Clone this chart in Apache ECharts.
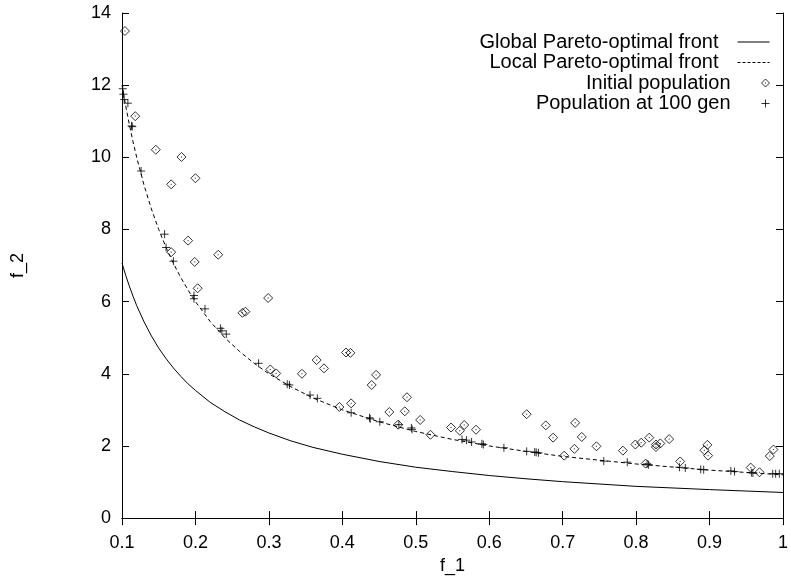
<!DOCTYPE html>
<html>
<head>
<meta charset="utf-8">
<script src="https://cdn.jsdelivr.net/npm/echarts@6/dist/echarts.min.js"></script>
<style>
  html, body { margin: 0; padding: 0; background: #fff; }
  #chart { width: 791px; height: 580px; }
</style>
</head>
<body>
<div id="chart"></div>
<script>
// f_1 sample positions for the two fronts
const frontF1 = [0.1, 0.105, 0.11, 0.115, 0.12, 0.13, 0.14, 0.15, 0.16, 0.17, 0.18, 0.19, 0.2, 0.22, 0.24, 0.26, 0.28,
  0.3, 0.33, 0.36, 0.4, 0.45, 0.5, 0.55, 0.6, 0.65, 0.7, 0.8, 0.9, 1.0]
// 全局前沿 f_2
const globalF2 = [7.07, 6.73, 6.43, 6.15, 5.89, 5.44, 5.05, 4.71, 4.42, 4.16, 3.93, 3.72, 3.54, 3.21, 2.95, 2.72, 2.53,
  2.36, 2.14, 1.96, 1.77, 1.57, 1.41, 1.29, 1.18, 1.09, 1.01, 0.88, 0.79, 0.71]
// 局部前沿 f_2
const localF2 = [12.0, 11.43, 10.91, 10.43, 10.0, 9.23, 8.57, 8.0, 7.5, 7.06, 6.67, 6.32, 6.0, 5.45, 5.0, 4.62, 4.29,
  4.0, 3.64, 3.33, 3.0, 2.67, 2.4, 2.18, 2.0, 1.85, 1.71, 1.5, 1.33, 1.2]

// initial population
const initF1 = [0.104, 0.118, 0.146, 0.181, 0.167, 0.2, 0.19, 0.167, 0.231, 0.199, 0.203, 0.299, 0.264, 0.268,
  0.302, 0.31, 0.345, 0.365, 0.375, 0.405, 0.411, 0.396, 0.412, 0.446, 0.44, 0.488, 0.464, 0.485, 0.476,
  0.506, 0.52, 0.548, 0.56, 0.566, 0.582, 0.651, 0.677, 0.687, 0.702, 0.717, 0.726, 0.716, 0.746, 0.782,
  0.799, 0.807, 0.818, 0.827, 0.833, 0.827, 0.845, 0.86, 0.813, 0.893, 0.897, 0.898, 0.956, 0.968, 0.982, 0.987]
const initF2 = [13.5, 11.14, 10.21, 10.01, 9.25, 9.42, 7.69, 7.37, 7.3, 7.1, 6.37, 6.1, 5.69, 5.72,
  4.12, 4.01, 4.0, 4.38, 4.15, 4.59, 4.58, 3.08, 3.18, 3.97, 3.69, 3.35, 2.94, 2.96, 2.59,
  2.72, 2.31, 2.51, 2.42, 2.58, 2.45, 2.88, 2.57, 2.23, 1.73, 2.64, 2.25, 1.92, 1.99, 1.87,
  2.04, 2.09, 2.23, 2.04, 2.07, 1.97, 2.19, 1.57, 1.51, 1.88, 2.03, 1.73, 1.4, 1.27, 1.72, 1.9]

// population after 100 generations
const genF1 = [0.101, 0.102, 0.103, 0.108, 0.113, 0.114, 0.126, 0.158, 0.16, 0.17, 0.198, 0.198, 0.213, 0.234,
  0.236, 0.242, 0.286, 0.325, 0.328, 0.356, 0.366, 0.412, 0.437, 0.438, 0.451, 0.477, 0.494, 0.495, 0.563,
  0.569, 0.576, 0.59, 0.592, 0.62, 0.651, 0.662, 0.664, 0.667, 0.756, 0.788, 0.815, 0.817, 0.859, 0.867,
  0.888, 0.892, 0.929, 0.934, 0.957, 0.959, 0.986, 0.99, 0.995]
const genF2 = [11.9, 11.75, 11.6, 11.5, 10.87, 10.85, 9.62, 7.87, 7.5, 7.12, 6.17, 6.08, 5.8, 5.26,
  5.19, 5.1, 4.29, 3.71, 3.69, 3.41, 3.32, 2.92, 2.78, 2.75, 2.67, 2.59, 2.5, 2.46, 2.18,
  2.16, 2.11, 2.06, 2.04, 1.95, 1.85, 1.83, 1.82, 1.81, 1.58, 1.55, 1.5, 1.48, 1.41, 1.39,
  1.35, 1.34, 1.31, 1.29, 1.26, 1.25, 1.23, 1.23, 1.23]

const zip = (xs, ys) => xs.map((x, i) => [x, ys[i]])

const FONT = 'Liberation Sans, Arial, Helvetica, sans-serif'
const DIAMOND = 'path://M4,0L8,4L4,8L0,4Z M3.5,4L4.5,4'
const PLUS = 'path://M0,4L8,4M4,0L4,8'

const names = ['Global Pareto-optimal front', 'Local Pareto-optimal front', 'Initial population', 'Population at 100 gen']

const axisCommon = {
  type: 'value',
  axisLine: { show: true, lineStyle: { color: '#000', width: 1 } },
  axisTick: { show: true, inside: true, length: 7, lineStyle: { color: '#000' } },
  splitLine: { show: false }
}

const hollow = { color: 'transparent', borderColor: '#000', borderWidth: 1 }

const chart = echarts.init(document.getElementById('chart'))
chart.setOption({
  animation: false,
  backgroundColor: '#fff',
  grid: { left: 122, right: 1, top: 13, bottom: 54 },
  // 图例逐条放置，文字右对齐
  legend: names.map((n, i) => ({
    data: [n],
    right: 21,
    top: 32 + i * 20.5,
    align: 'right',
    itemWidth: 32,
    itemHeight: 8,
    padding: 0,
    // 线条图例不画圆点
    itemStyle: i < 2 ? { opacity: 0 } : hollow,
    lineStyle: { width: 1, type: i === 1 ? [3, 2] : 'solid', color: '#000' },
    textStyle: { fontFamily: FONT, fontSize: 20, color: '#000', padding: [0, 14, 0, 0] }
  })),
  xAxis: [
    Object.assign({}, axisCommon, {
      min: 0.1, max: 1, interval: 0.1,
      name: 'f_1', nameLocation: 'middle', nameGap: 37,
      nameTextStyle: { fontFamily: FONT, fontSize: 18, color: '#000' },
      axisLabel: { fontFamily: FONT, fontSize: 18, color: '#000', margin: 16 }
    }),
    Object.assign({}, axisCommon, {
      position: 'top', min: 0.1, max: 1, interval: 0.1,
      axisLabel: { show: false }
    })
  ],
  yAxis: [
    Object.assign({}, axisCommon, {
      min: 0, max: 14, interval: 2,
      name: 'f_2', nameLocation: 'middle', nameGap: 95, nameRotate: 90,
      nameTextStyle: { fontFamily: FONT, fontSize: 18, color: '#000' },
      axisLabel: { fontFamily: FONT, fontSize: 18, color: '#000', margin: 11 }
    }),
    Object.assign({}, axisCommon, {
      position: 'right', min: 0, max: 14, interval: 2,
      axisLabel: { show: false }
    })
  ],
  series: [
    {
      name: names[0], type: 'line', data: zip(frontF1, globalF2),
      symbol: 'none',
      lineStyle: { color: '#000', width: 1 }, itemStyle: { color: '#000' }
    },
    {
      name: names[1], type: 'line', data: zip(frontF1, localF2),
      symbol: 'none',
      lineStyle: { color: '#000', width: 1, type: [4, 3] }, itemStyle: { color: '#000' }
    },
    {
      name: names[2], type: 'scatter', data: zip(initF1, initF2),
      symbol: DIAMOND, symbolSize: 9, symbolKeepAspect: true,
      itemStyle: hollow
    },
    {
      name: names[3], type: 'scatter', data: zip(genF1, genF2),
      symbol: PLUS, symbolSize: 8, symbolKeepAspect: true,
      itemStyle: hollow
    }
  ]
})
</script>
</body>
</html>
